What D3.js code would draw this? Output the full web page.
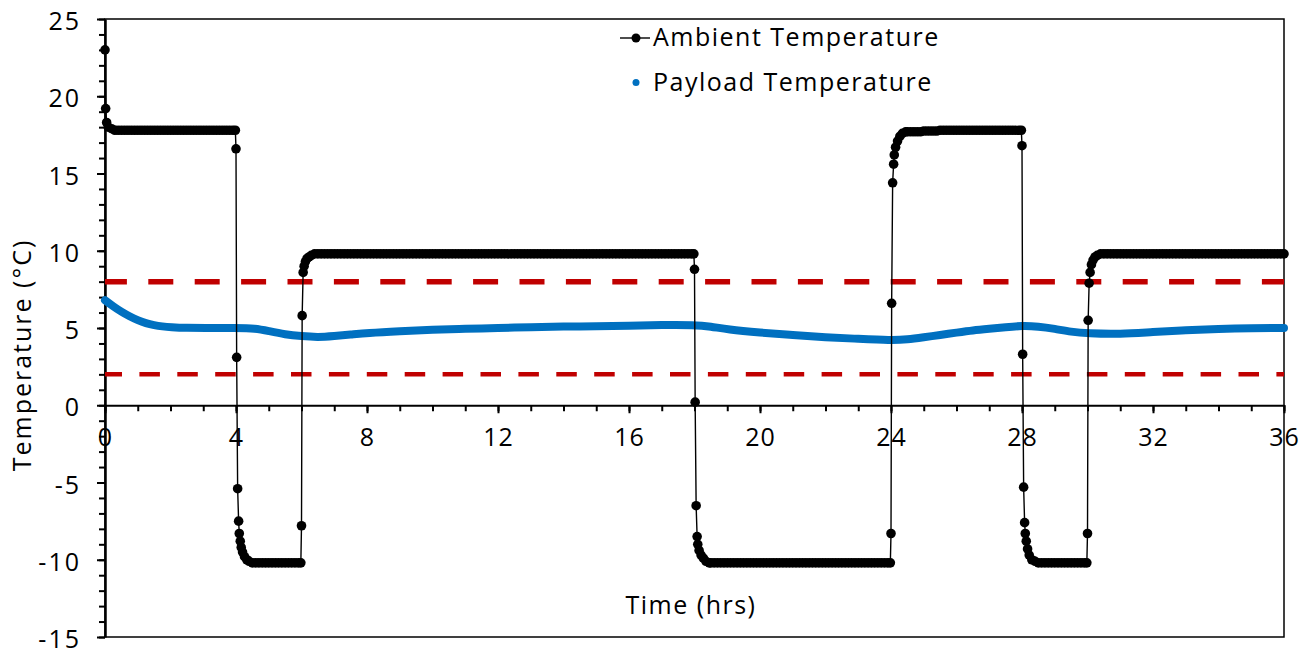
<!DOCTYPE html>
<html>
<head>
<meta charset="utf-8">
<script src="https://cdn.jsdelivr.net/npm/d3@7"></script>
<style>
  body { margin: 0; background: #fff; }
  text { font-family: "Open Sans", sans-serif; fill: #000; }
</style>
</head>
<body>
<svg id="chart" width="1309" height="652"></svg>
<script>
// Ambient temperature [hours, degC]
const ambient = [
  // pull-down and first warm hold
  [0,23.0],[0.02,19.2],[0.05,18.3],[0.1,18.0],[0.2,17.9],
  [0.3,17.8],[0.4,17.8],[0.5,17.8],[0.6,17.8],[0.7,17.8],[0.8,17.8],[0.9,17.8],[1.0,17.8],[1.1,17.8],[1.2,17.8],
  [1.3,17.8],[1.4,17.8],[1.5,17.8],[1.6,17.8],[1.7,17.8],[1.8,17.8],[1.9,17.8],[2.0,17.8],[2.1,17.8],[2.2,17.8],
  [2.3,17.8],[2.4,17.8],[2.5,17.8],[2.6,17.8],[2.7,17.8],[2.8,17.8],[2.9,17.8],[3.0,17.8],[3.1,17.8],[3.2,17.8],
  [3.3,17.8],[3.4,17.8],[3.5,17.8],[3.6,17.8],[3.7,17.8],[3.8,17.8],[3.9,17.8],[3.98,17.8],
  // drop to cold
  [4.0,16.6],[4.02,3.1],[4.05,-5.4],[4.08,-7.5],[4.1,-8.3],[4.13,-8.8],[4.16,-9.2],[4.2,-9.5],[4.26,-9.8],[4.33,-10.0],[4.4,-10.1],[4.5,-10.2],
  [4.6,-10.2],[4.7,-10.2],[4.8,-10.2],[4.9,-10.2],[5.0,-10.2],[5.1,-10.2],[5.2,-10.2],[5.3,-10.2],[5.4,-10.2],[5.5,-10.2],
  [5.6,-10.2],[5.7,-10.2],[5.8,-10.2],[5.9,-10.2],[5.98,-10.2],
  // up to 10
  [6.0,-7.8],[6.02,5.8],[6.05,8.6],[6.08,9.0],[6.12,9.3],[6.17,9.5],[6.23,9.6],[6.3,9.7],[6.4,9.8],
  [6.5,9.8],[6.6,9.8],[6.7,9.8],[6.8,9.8],[6.9,9.8],[7.0,9.8],[7.1,9.8],[7.2,9.8],[7.3,9.8],[7.4,9.8],
  [7.5,9.8],[7.6,9.8],[7.7,9.8],[7.8,9.8],[7.9,9.8],[8.0,9.8],[8.1,9.8],[8.2,9.8],[8.3,9.8],[8.4,9.8],
  [8.5,9.8],[8.6,9.8],[8.7,9.8],[8.8,9.8],[8.9,9.8],[9.0,9.8],[9.1,9.8],[9.2,9.8],[9.3,9.8],[9.4,9.8],
  [9.5,9.8],[9.6,9.8],[9.7,9.8],[9.8,9.8],[9.9,9.8],[10.0,9.8],[10.1,9.8],[10.2,9.8],[10.3,9.8],[10.4,9.8],
  [10.5,9.8],[10.6,9.8],[10.7,9.8],[10.8,9.8],[10.9,9.8],[11.0,9.8],[11.1,9.8],[11.2,9.8],[11.3,9.8],[11.4,9.8],
  [11.5,9.8],[11.6,9.8],[11.7,9.8],[11.8,9.8],[11.9,9.8],[12.0,9.8],[12.1,9.8],[12.2,9.8],[12.3,9.8],[12.4,9.8],
  [12.5,9.8],[12.6,9.8],[12.7,9.8],[12.8,9.8],[12.9,9.8],[13.0,9.8],[13.1,9.8],[13.2,9.8],[13.3,9.8],[13.4,9.8],
  [13.5,9.8],[13.6,9.8],[13.7,9.8],[13.8,9.8],[13.9,9.8],[14.0,9.8],[14.1,9.8],[14.2,9.8],[14.3,9.8],[14.4,9.8],
  [14.5,9.8],[14.6,9.8],[14.7,9.8],[14.8,9.8],[14.9,9.8],[15.0,9.8],[15.1,9.8],[15.2,9.8],[15.3,9.8],[15.4,9.8],
  [15.5,9.8],[15.6,9.8],[15.7,9.8],[15.8,9.8],[15.9,9.8],[16.0,9.8],[16.1,9.8],[16.2,9.8],[16.3,9.8],[16.4,9.8],
  [16.5,9.8],[16.6,9.8],[16.7,9.8],[16.8,9.8],[16.9,9.8],[17.0,9.8],[17.1,9.8],[17.2,9.8],[17.3,9.8],[17.4,9.8],
  [17.5,9.8],[17.6,9.8],[17.7,9.8],[17.8,9.8],[17.9,9.8],[17.98,9.8],
  // drop to cold
  [18.0,8.8],[18.02,0.2],[18.05,-6.5],[18.08,-8.5],[18.1,-9.0],[18.14,-9.4],[18.2,-9.7],[18.27,-9.9],[18.35,-10.1],[18.45,-10.2],
  [18.5,-10.2],[18.6,-10.2],[18.7,-10.2],[18.8,-10.2],[18.9,-10.2],[19.0,-10.2],[19.1,-10.2],[19.2,-10.2],[19.3,-10.2],[19.4,-10.2],
  [19.5,-10.2],[19.6,-10.2],[19.7,-10.2],[19.8,-10.2],[19.9,-10.2],[20.0,-10.2],[20.1,-10.2],[20.2,-10.2],[20.3,-10.2],[20.4,-10.2],
  [20.5,-10.2],[20.6,-10.2],[20.7,-10.2],[20.8,-10.2],[20.9,-10.2],[21.0,-10.2],[21.1,-10.2],[21.2,-10.2],[21.3,-10.2],[21.4,-10.2],
  [21.5,-10.2],[21.6,-10.2],[21.7,-10.2],[21.8,-10.2],[21.9,-10.2],[22.0,-10.2],[22.1,-10.2],[22.2,-10.2],[22.3,-10.2],[22.4,-10.2],
  [22.5,-10.2],[22.6,-10.2],[22.7,-10.2],[22.8,-10.2],[22.9,-10.2],[23.0,-10.2],[23.1,-10.2],[23.2,-10.2],[23.3,-10.2],[23.4,-10.2],
  [23.5,-10.2],[23.6,-10.2],[23.7,-10.2],[23.8,-10.2],[23.9,-10.2],[23.98,-10.2],
  // up to 18
  [24.0,-8.3],[24.02,6.6],[24.05,14.4],[24.08,15.6],[24.1,16.2],[24.14,16.7],[24.2,17.1],[24.27,17.4],[24.35,17.6],[24.45,17.7],
  [24.5,17.7],[24.6,17.7],[24.7,17.7],[24.8,17.7],[24.9,17.7],[25.0,17.75],[25.1,17.75],[25.2,17.75],[25.3,17.75],[25.4,17.75],
  [25.5,17.8],[25.6,17.8],[25.7,17.8],[25.8,17.8],[25.9,17.8],[26.0,17.8],[26.1,17.8],[26.2,17.8],[26.3,17.8],[26.4,17.8],
  [26.5,17.8],[26.6,17.8],[26.7,17.8],[26.8,17.8],[26.9,17.8],[27.0,17.8],[27.1,17.8],[27.2,17.8],[27.3,17.8],[27.4,17.8],
  [27.5,17.8],[27.6,17.8],[27.7,17.8],[27.8,17.8],[27.9,17.8],[27.98,17.8],
  // drop to cold
  [28.0,16.8],[28.02,3.3],[28.05,-5.3],[28.08,-7.6],[28.1,-8.3],[28.13,-8.8],[28.17,-9.3],[28.22,-9.7],[28.3,-10.0],[28.4,-10.1],
  [28.5,-10.2],[28.6,-10.2],[28.7,-10.2],[28.8,-10.2],[28.9,-10.2],[29.0,-10.2],[29.1,-10.2],[29.2,-10.2],[29.3,-10.2],[29.4,-10.2],
  [29.5,-10.2],[29.6,-10.2],[29.7,-10.2],[29.8,-10.2],[29.9,-10.2],[29.98,-10.2],
  // up to 10
  [30.0,-8.3],[30.02,5.5],[30.05,7.9],[30.08,8.6],[30.12,9.1],[30.17,9.4],[30.23,9.6],[30.3,9.7],[30.4,9.8],
  [30.5,9.8],[30.6,9.8],[30.7,9.8],[30.8,9.8],[30.9,9.8],[31.0,9.8],[31.1,9.8],[31.2,9.8],[31.3,9.8],[31.4,9.8],
  [31.5,9.8],[31.6,9.8],[31.7,9.8],[31.8,9.8],[31.9,9.8],[32.0,9.8],[32.1,9.8],[32.2,9.8],[32.3,9.8],[32.4,9.8],
  [32.5,9.8],[32.6,9.8],[32.7,9.8],[32.8,9.8],[32.9,9.8],[33.0,9.8],[33.1,9.8],[33.2,9.8],[33.3,9.8],[33.4,9.8],
  [33.5,9.8],[33.6,9.8],[33.7,9.8],[33.8,9.8],[33.9,9.8],[34.0,9.8],[34.1,9.8],[34.2,9.8],[34.3,9.8],[34.4,9.8],
  [34.5,9.8],[34.6,9.8],[34.7,9.8],[34.8,9.8],[34.9,9.8],[35.0,9.8],[35.1,9.8],[35.2,9.8],[35.3,9.8],[35.4,9.8],
  [35.5,9.8],[35.6,9.8],[35.7,9.8],[35.8,9.8],[35.9,9.8],[36.0,9.8]
];

// Payload temperature [hours, degC]
const payload = [
  [0,6.8],[0.25,6.4],[0.5,6.05],[0.75,5.75],[1.0,5.5],[1.25,5.3],[1.5,5.18],[1.75,5.1],[2.0,5.05],[2.5,5.0],
  [3.0,5.0],[4.0,5.0],[4.6,4.98],[5.0,4.8],[5.5,4.58],[6.0,4.47],[6.5,4.4],[7.0,4.48],[7.5,4.57],[8.0,4.68],
  [9.0,4.8],[10.0,4.9],[11.0,4.95],[12.0,5.0],[13.0,5.05],[14.0,5.1],[15.0,5.1],[16.0,5.15],[17.0,5.2],[18.0,5.2],
  [18.5,5.1],[19.0,4.9],[20.0,4.7],[21.0,4.55],[22.0,4.4],[23.0,4.3],[24.0,4.2],[24.5,4.25],[25.0,4.4],[25.5,4.55],
  [26.0,4.7],[26.5,4.85],[27.0,4.95],[27.5,5.05],[28.0,5.15],[28.5,5.1],[29.0,4.95],[29.5,4.75],[30.0,4.65],[31.0,4.6],
  [32.0,4.75],[33.0,4.85],[34.0,4.95],[35.0,5.0],[36.0,5.0]
];

const limitUpper = 8;
const limitLower = 2;

const xTicks = [0, 4, 8, 12, 16, 20, 24, 28, 32, 36];
const yTicks = [-15, -10, -5, 0, 5, 10, 15, 20, 25];

const svg = d3.select("#chart");
const plotLeft = 105, plotRight = 1284, plotTop = 19, plotBottom = 637;

const x = d3.scaleLinear().domain([0, 36]).range([plotLeft, plotRight]);
const y = d3.scaleLinear().domain([-15, 25]).range([plotBottom, plotTop]);

// plain hyphen for negatives, like the original
const plain = d => String(d);

// plot frame
svg.append("rect")
  .attr("x", plotLeft).attr("y", plotTop)
  .attr("width", plotRight - plotLeft).attr("height", plotBottom - plotTop)
  .attr("fill", "none").attr("stroke", "#000").attr("stroke-width", 1.5);

// y axis: minor then major ticks
svg.append("g")
  .attr("transform", `translate(${plotLeft},0)`)
  .call(d3.axisLeft(y).tickValues(d3.range(-15, 26, 1)).tickSize(6).tickFormat(""))
  .call(g => g.select(".domain").remove())
  .call(g => g.selectAll("line").attr("stroke-width", 2));

const yAxis = svg.append("g")
  .attr("transform", `translate(${plotLeft},0)`)
  .call(d3.axisLeft(y).tickValues(yTicks).tickFormat(plain).tickSize(8).tickSizeOuter(0));
yAxis.select(".domain").attr("stroke-width", 2.5);
yAxis.selectAll("line").attr("stroke-width", 2);
yAxis.selectAll("text")
  .attr("x", -24).attr("dy", "0.42em")
  .style("font-size", "25px").style("letter-spacing", "2px")
  .style("font-family", "'Open Sans', sans-serif");

// x axis on the zero line
svg.append("g")
  .attr("transform", `translate(0,${y(0)})`)
  .call(d3.axisBottom(x).tickValues(d3.range(0, 37, 1)).tickSize(6).tickFormat(""))
  .call(g => g.select(".domain").remove())
  .call(g => g.selectAll("line").attr("stroke-width", 2));

const xAxis = svg.append("g")
  .attr("transform", `translate(0,${y(0)})`)
  .call(d3.axisBottom(x).tickValues(xTicks).tickFormat(plain).tickSize(8).tickSizeOuter(0));
xAxis.select(".domain").attr("stroke-width", 2);
xAxis.selectAll("line").attr("stroke-width", 2);
xAxis.selectAll("text")
  .attr("y", 41).attr("dy", 0)
  .style("font-size", "25px").style("letter-spacing", "1px")
  .style("font-family", "'Open Sans', sans-serif");

// limits
svg.append("line")
  .attr("x1", x(0)).attr("x2", x(36))
  .attr("y1", y(limitUpper)).attr("y2", y(limitUpper))
  .attr("stroke", "#C00000").attr("stroke-width", 5.5)
  .attr("stroke-dasharray", "25 21.4").attr("stroke-dashoffset", 3.1);

svg.append("line")
  .attr("x1", x(0)).attr("x2", x(36))
  .attr("y1", y(limitLower)).attr("y2", y(limitLower))
  .attr("stroke", "#C00000").attr("stroke-width", 4.5)
  .attr("stroke-dasharray", "20.5 17.4").attr("stroke-dashoffset", 3.5);

// payload
svg.append("path")
  .datum(payload)
  .attr("fill", "none")
  .attr("stroke", "#0070C0")
  .attr("stroke-width", 8)
  .attr("stroke-linecap", "round")
  .attr("d", d3.line().x(d => x(d[0])).y(d => y(d[1])).curve(d3.curveBasis));

// ambient
svg.append("path")
  .datum(ambient)
  .attr("fill", "none")
  .attr("stroke", "#000")
  .attr("stroke-width", 1.4)
  .attr("d", d3.line().x(d => x(d[0])).y(d => y(d[1])));

svg.append("g")
  .selectAll("circle")
  .data(ambient)
  .join("circle")
  .attr("cx", d => x(d[0]))
  .attr("cy", d => y(d[1]))
  .attr("r", 4.8)
  .attr("fill", "#000");

// axis titles
svg.append("text")
  .attr("transform", "translate(31,355) rotate(-90)")
  .attr("text-anchor", "middle")
  .style("font-size", "25px").style("letter-spacing", "2px")
  .text("Temperature (°C)");

svg.append("text")
  .attr("x", 691).attr("y", 614)
  .attr("text-anchor", "middle")
  .style("font-size", "25px").style("letter-spacing", "1.5px")
  .text("Time (hrs)");

// legend
const legend = svg.append("g");
legend.append("line")
  .attr("x1", 620).attr("x2", 650).attr("y1", 38).attr("y2", 38)
  .attr("stroke", "#000").attr("stroke-width", 1.4);
legend.append("circle").attr("cx", 636).attr("cy", 38).attr("r", 4.5).attr("fill", "#000");
legend.append("text")
  .attr("x", 653).attr("y", 46)
  .style("font-size", "25px").style("letter-spacing", "1.5px")
  .text("Ambient Temperature");
legend.append("circle").attr("cx", 636).attr("cy", 82.5).attr("r", 3.5).attr("fill", "#0070C0");
legend.append("text")
  .attr("x", 653).attr("y", 91)
  .style("font-size", "25px").style("letter-spacing", "1.5px")
  .text("Payload Temperature");
</script>
</body>
</html>
